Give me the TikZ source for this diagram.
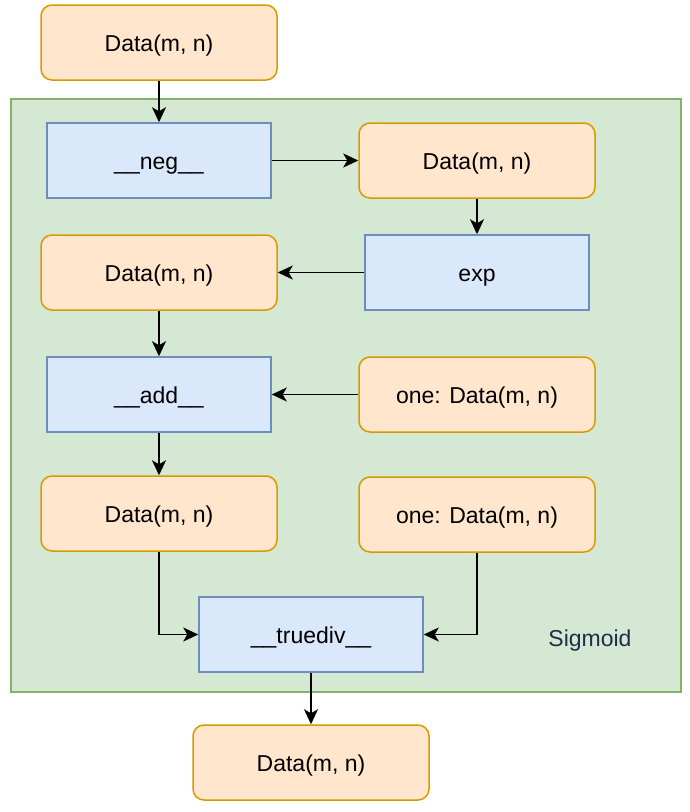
\documentclass[tikz,border=0pt]{standalone}
\usepackage{fontspec}
\setmainfont{Liberation Sans}
\usetikzlibrary{arrows.meta}
\definecolor{ofill}{HTML}{FFE6CC}
\definecolor{ostroke}{HTML}{D79B00}
\definecolor{bfill}{HTML}{DAE8FC}
\definecolor{bstroke}{HTML}{6C8EBF}
\definecolor{gfill}{HTML}{D5E8D4}
\definecolor{gstroke}{HTML}{82B366}
\definecolor{sigtext}{HTML}{1C3049}
\tikzset{
  lbl/.style={font=\fontsize{23}{27}\selectfont, text height=18pt, text depth=0pt},
  datanode/.style={lbl, draw=ostroke, fill=ofill, line width=1.5pt, rounded corners=11pt,
    minimum width=236pt, minimum height=75pt, inner sep=0pt},
  opnode/.style={lbl, draw=bstroke, fill=bfill, line width=1.5pt,
    minimum width=224pt, minimum height=75pt, inner sep=0pt},
  conn/.style={line width=1.6pt, -{Stealth[length=15pt,width=14pt,inset=4pt]}}
}
\begin{document}
\begin{tikzpicture}[x=1pt,y=-1pt]
\useasboundingbox (0,0) rectangle (690,812);
\node[draw=gstroke, fill=gfill, line width=1.5pt, minimum width=670pt, minimum height=593pt, inner sep=0pt] (box) at (346,395.5) {};
\node[lbl, text=sigtext, inner sep=0pt] (sig) at (590,637) {Sigmoid};

\node[datanode] (d0) at (159,42.5) {Data(m, n)};
\node[opnode] (neg) at (159,160.5) {\_\_neg\_\_};
\node[datanode] (d1) at (477,160.5) {Data(m, n)};
\node[opnode] (exp) at (477,272.5) {exp};
\node[datanode] (d2) at (159,272.5) {Data(m, n)};
\node[opnode] (add) at (159,394.5) {\_\_add\_\_};
\node[datanode] (one1) at (477,394.5) {one: Data(m, n)};
\node[datanode] (d3) at (159,513.5) {Data(m, n)};
\node[datanode] (one2) at (477,514.5) {one: Data(m, n)};
\node[opnode] (div) at (311,634.5) {\_\_truediv\_\_};
\node[datanode] (d4) at (311,762.5) {Data(m, n)};

\draw[conn] (d0) -- (neg);
\draw[conn] (neg) -- (d1);
\draw[conn] (d1) -- (exp);
\draw[conn] (exp) -- (d2);
\draw[conn] (d2) -- (add);
\draw[conn] (one1) -- (add);
\draw[conn] (add) -- (d3);
\draw[conn] (d3.south) |- (div.west);
\draw[conn] (one2.south) |- (div.east);
\draw[conn] (div) -- (d4);
\end{tikzpicture}
\end{document}
